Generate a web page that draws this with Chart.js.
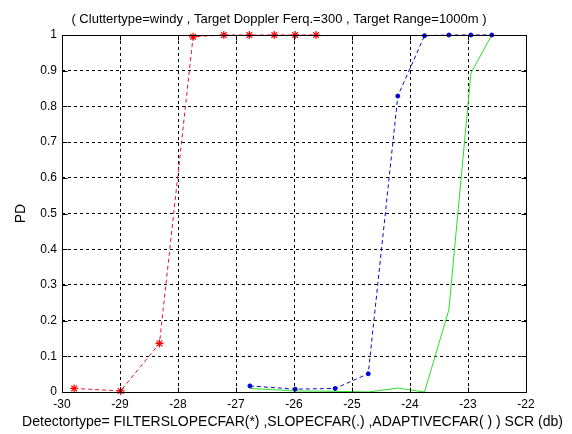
<!DOCTYPE html>
<html><head><meta charset="utf-8">
<script src="https://cdn.jsdelivr.net/npm/chart.js@4"></script>
<style>html,body{margin:0;padding:0;background:#fff}canvas{display:block}</style>
</head><body>
<canvas id="c" width="572" height="434"></canvas>
<script>
const titleText = "( Cluttertype=windy , Target Doppler Ferq.=300 , Target Range=1000m )";
const xAxisTitle = "Detectortype= FILTERSLOPECFAR(*) ,SLOPECFAR(.) ,ADAPTIVECFAR( ) ) SCR (db)";
const yAxisTitle = "PD";
const xTickLabels = ["-30","-29","-28","-27","-26","-25","-24","-23","-22"];
const yTickLabels = ["0","0.1","0.2","0.3","0.4","0.5","0.6","0.7","0.8","0.9","1"];

// FILTERSLOPECFAR (*)
const filterSCR = [-29.79, -28.99, -28.32, -27.74, -27.21, -26.77, -26.34, -25.98, -25.62];
const filterPD  = [0.010, 0.003, 0.136, 0.995, 1.0, 1.0, 1.0, 1.0, 1.0];
// SLOPECFAR (.) and ADAPTIVECFAR share SCR values
const scrValues  = [-26.76, -25.98, -25.29, -24.72, -24.21, -23.75, -23.33, -22.95, -22.59];
const slopePD    = [0.017, 0.008, 0.010, 0.051, 0.829, 0.998, 1.0, 1.0, 1.0];
const adaptivePD = [0.010, 0.003, 0.002, 0.000, 0.011, 0.000, 0.230, 0.893, 1.0];

const FONT = '"Liberation Sans", Arial, sans-serif';
const pts = (xs, ys) => xs.map((x, i) => ({x: x, y: ys[i]}));

const framePlugin = {
  id: 'frame',
  afterDraw(chart) {
    const {ctx, chartArea: a, scales} = chart;
    ctx.save();
    ctx.strokeStyle = '#000';
    ctx.lineWidth = 1;
    ctx.setLineDash([]);
    const L = Math.round(a.left) + 0.5, R = Math.round(a.right) + 0.5;
    const T = Math.round(a.top) + 0.5, B = Math.round(a.bottom) + 0.5;
    ctx.strokeRect(L, T, R - L, B - T);
    const tl = 5;
    ctx.beginPath();
    scales.x.ticks.forEach(t => {
      const px = Math.round(scales.x.getPixelForValue(t.value)) + 0.5;
      ctx.moveTo(px, B); ctx.lineTo(px, B - tl);
      ctx.moveTo(px, T); ctx.lineTo(px, T + tl);
    });
    scales.y.ticks.forEach(t => {
      const py = Math.round(scales.y.getPixelForValue(t.value)) + 0.5;
      ctx.moveTo(L, py); ctx.lineTo(L + tl, py);
      ctx.moveTo(R, py); ctx.lineTo(R - tl, py);
    });
    ctx.stroke();
    // titles (real text)
    ctx.fillStyle = '#000';
    ctx.textAlign = 'center';
    ctx.textBaseline = 'middle';
    ctx.font = '13px ' + FONT;
    ctx.fillText(titleText, 279, 19);
    ctx.font = '14px ' + FONT;
    ctx.fillText(xAxisTitle, (a.left + a.right) / 2 - 1.5, 422);
    ctx.restore();
  }
};

new Chart(document.getElementById('c'), {
  type: 'scatter',
  data: {
    datasets: [
      {
        label: 'FILTERSLOPECFAR',
        data: pts(filterSCR, filterPD),
        showLine: true,
        borderColor: 'rgb(235,20,40)',
        borderWidth: 1,
        borderDash: [4, 3],
        pointStyle: 'star',
        pointRadius: 4,
        pointBorderColor: '#ff0000',
        pointBackgroundColor: '#ff0000',
        pointBorderWidth: 1.2,
        clip: false
      },
      {
        label: 'SLOPECFAR',
        data: pts(scrValues, slopePD),
        showLine: true,
        borderColor: 'rgb(10,10,200)',
        borderWidth: 1,
        borderDash: [4, 3],
        pointStyle: 'circle',
        pointRadius: 2,
        pointBorderColor: 'rgb(0,0,220)',
        pointBackgroundColor: 'rgb(0,0,220)',
        pointBorderWidth: 1,
        clip: false
      },
      {
        label: 'ADAPTIVECFAR',
        data: pts(scrValues, adaptivePD),
        showLine: true,
        borderColor: 'rgb(40,225,40)',
        borderWidth: 1,
        pointRadius: 0,
        clip: 2
      }
    ]
  },
  options: {
    responsive: false,
    devicePixelRatio: 1,
    animation: false,
    layout: {padding: {left: 0, right: 46, top: 35, bottom: 0}},
    plugins: {
      legend: {display: false},
      tooltip: {enabled: false},
      title: {display: false}
    },
    scales: {
      x: {
        type: 'linear',
        min: -30, max: -22,
        afterFit(s) { s.height = 42; },
        ticks: {
          stepSize: 1,
          color: '#000',
          font: {family: FONT, size: 12},
          padding: 5,
          callback: (v, i) => xTickLabels[i]
        },
        grid: {color: '#000', lineWidth: 1, drawTicks: false},
        border: {display: false, dash: [3, 3]}
      },
      y: {
        type: 'linear',
        min: 0, max: 1,
        afterFit(s) { s.width = 62; },
        ticks: {
          stepSize: 0.1,
          color: '#000',
          font: {family: FONT, size: 12},
          padding: 5,
          callback: (v, i) => yTickLabels[i]
        },
        grid: {color: '#000', lineWidth: 1, drawTicks: false},
        border: {display: false, dash: [3, 3]},
        title: {
          display: true,
          text: yAxisTitle,
          color: '#000',
          font: {family: FONT, size: 14},
          padding: {top: 13, bottom: 0}
        }
      }
    }
  },
  plugins: [framePlugin]
});
</script>
</body></html>
